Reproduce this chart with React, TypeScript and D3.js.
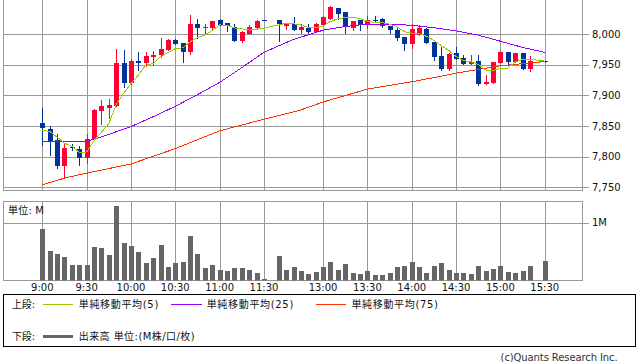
import { useEffect, useRef } from 'react';
import * as d3 from 'd3';

const W = 638;
const H = 362;

// 5分足 OHLC（スロット番号順、null = 足なし）
const opens = [
  7855, 7845, 7827, 7784, 7816, 7813, 7797, 7828, 7875, 7880,
  7883, 7953, 7920, 7956, 7952, 7963, 7965, 7974, 7990, 7985,
  7970, 8016, 8009, 8010, 8023, 8017, 8011, 7989, 8000, 8010,
  8023, null, 8023, 8013, 8016, 8007, 8010, 8003, 8014, 8024,
  8042, 8035, 8009, 8022, 8016, 8022, 8024, 8013, 8007, 7995,
  7984, 7999, 8008, 7987, 7964, 7942, 7969, 7960, 7951, 7956,
  7919, 7920, 7953, 7970, 7955, 7969, 7942, null, 7956,
];
const highs = [
  7880, 7850, 7837, 7821, 7821, 7817, 7837, 7877, 7893, 7894,
  7976, 7974, 7959, 7970, 7970, 7972, 7994, 7991, 7991, 7985,
  8031, 8024, 8016, 8021, 8024, 8017, 8016, 8005, 8014, 8023,
  8023, null, 8023, 8016, 8028, 8016, 8016, 8017, 8029, 8046,
  8042, 8036, 8021, 8022, 8029, 8029, 8026, 8013, 8009, 7995,
  8016, 8015, 8010, 7987, 7979, 7969, 7979, 7966, 7966, 7966,
  7933, 7955, 7972, 7970, 7969, 7969, 7964, null, 7956,
];
const lows = [
  7819, 7802, 7781, 7765, 7810, 7787, 7789, 7828, 7853, 7863,
  7882, 7914, 7919, 7941, 7948, 7950, 7963, 7973, 7984, 7955,
  7968, 7993, 8001, 8008, 8014, 8005, 7989, 7987, 8000, 8009,
  8023, null, 7989, 8008, 8007, 8001, 8002, 8003, 8014, 8024,
  8024, 8002, 8007, 8007, 8010, 8019, 8011, 8002, 7990, 7973,
  7977, 7999, 7985, 7958, 7941, 7941, 7959, 7951, 7951, 7916,
  7919, 7920, 7953, 7949, 7955, 7942, 7940, null, 7955,
];
const closes = [
  7846, 7826, 7784, 7814, 7814, 7797, 7829, 7876, 7882, 7884,
  7953, 7920, 7956, 7952, 7964, 7966, 7976, 7990, 7984, 7970,
  8016, 8010, 8011, 8021, 8015, 8013, 7989, 8003, 8011, 8021,
  8023, null, 8016, 8016, 8007, 8011, 8003, 8016, 8027, 8044,
  8033, 8012, 8021, 8015, 8023, 8021, 8013, 8007, 7994, 7984,
  8008, 8009, 7985, 7962, 7942, 7968, 7959, 7951, 7955, 7919,
  7922, 7954, 7971, 7955, 7969, 7942, 7956, null, 7956,
];
// 出来高 (M)
const volumes = [
  0.895, 0.515, 0.456, 0.404, 0.263, 0.263, 0.263, 0.579, 0.561, 0.439,
  1.28, 0.649, 0.596, 0.491, 0.298, 0.386, 0.614, 0.228, 0.298, 0.316,
  0.772, 0.456, 0.211, 0.263, 0.175, 0.158, 0.211, 0.211, 0.175, 0.123,
  0.023, null, 0.43, 0.181, 0.226, 0.158, 0.107, 0.141, 0.226, 0.311,
  0.181, 0.277, 0.124, 0.107, 0.158, 0.09, 0.09, 0.124, 0.226, 0.243,
  0.311, 0.226, 0.124, 0.243, 0.294, 0.175, 0.124, 0.124, 0.107, 0.243,
  0.158, 0.192, 0.243, 0.141, 0.124, 0.158, 0.243, null, 0.328,
];
// 前日最後の終値（5本移動平均の立ち上がり用）
const prevCloses = [7835, 7830, 7863, 7840];

// 25本 / 75本移動平均（前日分を含むので図から読み取り）
const ma25Slots = [0, 6, 8, 12, 15, 18, 21, 24, 27, 30, 34, 38, 41, 44, 47, 50, 53, 56, 59, 62, 65, 68];
const ma25Vals = [7825, 7825, 7832, 7849, 7865, 7882, 7901, 7921, 7945, 7970, 7991, 8006, 8012, 8016, 8016, 8014, 8010, 8005, 7998, 7988, 7978, 7970];
const ma75Slots = [0, 3, 6, 12, 18, 24, 30, 35, 38, 44, 50, 54, 56, 62, 68];
const ma75Vals = [7754, 7765, 7773, 7788, 7813, 7842, 7861, 7876, 7889, 7910, 7922, 7931, 7936, 7948, 7955];

const priceTicks = [7750, 7800, 7850, 7900, 7950, 8000];
const timeSlots = [0, 6, 12, 18, 24, 30, 38, 44, 50, 56, 62, 68];
const timeLabels = ['9:00', '9:30', '10:00', '10:30', '11:00', '11:30', '13:00', '13:30', '14:00', '14:30', '15:00', '15:30'];
const volTicks = [1];

const FONT = '"DejaVu Sans", "Noto Sans CJK JP", sans-serif';
const UP = '#ff0033';
const DOWN = '#003399';
const GRID = '#999999';

export default function App() {
  const svgRef = useRef<SVGSVGElement | null>(null);

  useEffect(() => {
    const svg = d3.select(svgRef.current);
    svg.selectAll('*').remove();

    const L = 3.5, R = 582.5, PB = 190.5, VT = 201.5, VB = 280.5;
    const crisp = (v: number) => Math.round(v) + 0.5;

    const x = d3.scaleLinear().domain([0, 68]).range([42.3, 544.7]);
    const y = d3.scaleLinear().domain([7750, 8000]).range([187.3, 33.9]);
    const yv = d3.scaleLinear().domain([0, 1]).range([280.5, 222.5]);

    svg.append('rect').attr('width', W).attr('height', H).attr('fill', '#fff');

    const defs = svg.append('defs');
    defs.append('clipPath').attr('id', 'pclip')
      .append('rect').attr('x', L).attr('y', 0).attr('width', R - L).attr('height', PB);
    defs.append('clipPath').attr('id', 'vclip')
      .append('rect').attr('x', L).attr('y', VT).attr('width', R - L).attr('height', VB - VT);

    // ── グリッド ───────────────────────────
    const grid = svg.append('g').attr('stroke', GRID).attr('stroke-width', 1).attr('shape-rendering', 'crispEdges');
    priceTicks.forEach(t => {
      grid.append('line').attr('x1', L).attr('x2', R + 6).attr('y1', crisp(y(t))).attr('y2', crisp(y(t)));
    });
    timeSlots.forEach(s => {
      const gx = crisp(x(s));
      grid.append('line').attr('x1', gx).attr('x2', gx).attr('y1', 0).attr('y2', PB);
      grid.append('line').attr('x1', gx).attr('x2', gx).attr('y1', VT).attr('y2', VB);
    });
    volTicks.forEach(t => {
      grid.append('line').attr('x1', L).attr('x2', R + 6).attr('y1', crisp(yv(t))).attr('y2', crisp(yv(t)));
    });
    // 枠
    grid.append('path').attr('fill', 'none').attr('d', `M${L},0V${PB}H${R}V0`);
    grid.append('rect').attr('fill', 'none').attr('x', L).attr('y', VT).attr('width', R - L).attr('height', VB - VT);

    // ── ローソク足 ─────────────────────────
    const pg = svg.append('g').attr('clip-path', 'url(#pclip)').attr('shape-rendering', 'crispEdges');
    opens.forEach((o, i) => {
      const c = closes[i];
      if (o == null || c == null) return;
      const col = c > o ? UP : DOWN;
      const cx = Math.round(x(i));
      pg.append('line')
        .attr('x1', cx + 0.5).attr('x2', cx + 0.5)
        .attr('y1', Math.round(y(highs[i] as number))).attr('y2', Math.round(y(lows[i] as number)) + 1)
        .attr('stroke', col);
      const top = Math.round(Math.min(y(o), y(c)));
      const bot = Math.round(Math.max(y(o), y(c)));
      pg.append('rect')
        .attr('x', cx - 2).attr('width', 5)
        .attr('y', top).attr('height', Math.max(1, bot - top))
        .attr('fill', col);
    });

    // ── 移動平均 ───────────────────────────
    const seq: number[] = [...prevCloses];
    const ma5: [number, number][] = [];
    closes.forEach((c, i) => {
      if (c == null) return;
      seq.push(c);
      ma5.push([i, d3.mean(seq.slice(-5)) as number]);
    });
    const line = d3.line<[number, number]>().x(d => x(d[0])).y(d => y(d[1]));
    const lg = svg.append('g').attr('clip-path', 'url(#pclip)').attr('fill', 'none')
      .attr('stroke-width', 1).attr('shape-rendering', 'crispEdges');
    lg.append('path').attr('d', line(ma75Slots.map((s, k) => [s, ma75Vals[k]]))).attr('stroke', '#ff3300');
    lg.append('path').attr('d', line(ma25Slots.map((s, k) => [s, ma25Vals[k]]))).attr('stroke', '#9900ff');
    lg.append('path').attr('d', line(ma5)).attr('stroke', '#99cc00');

    // ── 出来高 ─────────────────────────────
    const vg = svg.append('g').attr('clip-path', 'url(#vclip)').attr('fill', '#666').attr('shape-rendering', 'crispEdges');
    volumes.forEach((v, i) => {
      if (v == null) return;
      const cx = Math.round(x(i));
      const top = Math.round(yv(v));
      vg.append('rect').attr('x', cx - 2).attr('width', 5).attr('y', top).attr('height', Math.round(VB) - top);
    });

    // ── 文字 ──────────────────────────────
    const tg = svg.append('g').attr('font-family', FONT).attr('font-size', 10).attr('fill', '#111');
    priceTicks.forEach(t => {
      tg.append('text').attr('x', 592).attr('y', y(t)).attr('dy', '0.36em').text(d3.format(',')(t));
    });
    volTicks.forEach(t => {
      tg.append('text').attr('x', 592).attr('y', yv(t)).attr('dy', '0.36em').text(`${t}M`);
    });
    timeSlots.forEach((s, k) => {
      tg.append('text').attr('x', x(s)).attr('y', 291).attr('text-anchor', 'middle').text(timeLabels[k]);
    });
    tg.append('text').attr('x', 8).attr('y', 213.5).attr('textLength', 36).text('単位: M');

    // ── 凡例 ───────────────────────────────
    svg.append('rect').attr('x', 3.5).attr('y', 294.5).attr('width', 632).attr('height', 51.5)
      .attr('fill', 'none').attr('stroke', '#000').attr('shape-rendering', 'crispEdges');
    const leg = svg.append('g').attr('font-family', FONT).attr('font-size', 10).attr('fill', '#111');
    const row1 = 304, row2 = 336;
    const legendLines = [
      { x1: 43, x2: 73, y: row1, color: '#99cc00', w: 1, label: '単純移動平均(5)', tx: 78.7, tl: 79.6 },
      { x1: 171, x2: 202, y: row1, color: '#9900ff', w: 1, label: '単純移動平均(25)', tx: 206.7, tl: 86.6 },
      { x1: 316, x2: 346, y: row1, color: '#ff3300', w: 1, label: '単純移動平均(75)', tx: 351.4, tl: 86.6 },
      { x1: 43, x2: 73, y: row2, color: '#666', w: 3, label: '出来高 単位:(M株/口/枚)', tx: 78.7, tl: 116 },
    ];
    leg.append('text').attr('x', 12).attr('y', row1).attr('dy', '0.36em').attr('textLength', 23).text('上段:');
    leg.append('text').attr('x', 12).attr('y', row2).attr('dy', '0.36em').attr('textLength', 23).text('下段:');
    legendLines.forEach(d => {
      leg.append('line').attr('x1', d.x1).attr('x2', d.x2).attr('y1', d.y + 0.5).attr('y2', d.y + 0.5)
        .attr('stroke', d.color).attr('stroke-width', d.w).attr('shape-rendering', 'crispEdges');
      leg.append('text').attr('x', d.tx).attr('y', d.y).attr('dy', '0.36em')
        .attr('textLength', d.tl).attr('lengthAdjust', 'spacing').text(d.label);
    });

    svg.append('text').attr('x', 500.6).attr('y', 361).attr('font-family', FONT).attr('font-size', 10)
      .attr('fill', '#333').attr('textLength', 117).text('(c)Quants Research Inc.');
  }, []);

  return (
    <svg
      ref={svgRef}
      width={W}
      height={H}
      style={{ position: 'absolute', left: 0, top: 0, display: 'block' }}
    />
  );
}
